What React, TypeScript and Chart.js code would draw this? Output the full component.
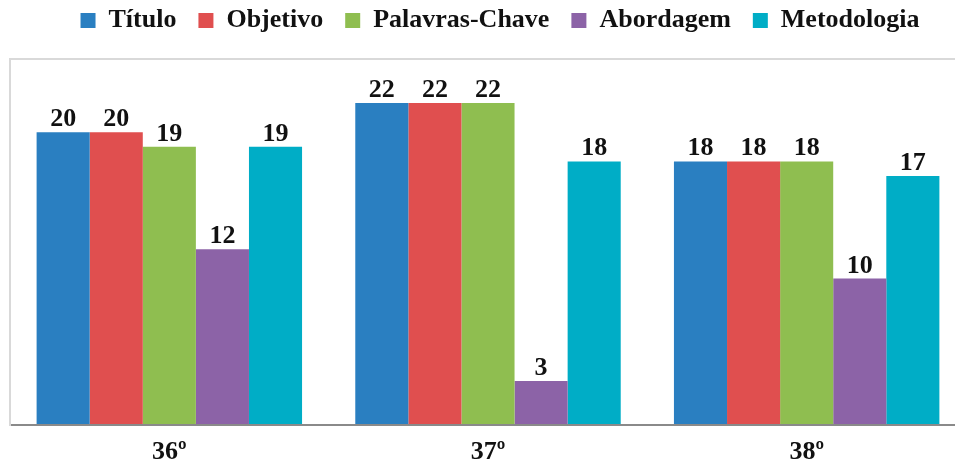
import React, { useEffect, useRef } from "react";
import { Chart, registerables } from "chart.js";

Chart.register(...registerables);

const categories = ["36º", "37º", "38º"];
const seriesNames = ["Título", "Objetivo", "Palavras-Chave", "Abordagem", "Metodologia"];
const titulo = [20, 22, 18];
const objetivo = [20, 22, 18];
const palavrasChave = [19, 22, 18];
const abordagem = [12, 3, 10];
const metodologia = [19, 18, 17];
const colors = ["#2a7fc1", "#e04f4f", "#8fbe50", "#8c63a7", "#00adc6"];
const yMax = 25;

const FONT = "'Liberation Serif', 'Times New Roman', serif";

const valueLabels = {
  id: "valueLabels",
  afterDatasetsDraw(chart: any) {
    const ctx = chart.ctx;
    ctx.save();
    ctx.font = `bold 26px ${FONT}`;
    ctx.fillStyle = "#111";
    ctx.textAlign = "center";
    ctx.textBaseline = "alphabetic";
    chart.data.datasets.forEach((ds: any, i: number) => {
      const meta = chart.getDatasetMeta(i);
      meta.data.forEach((el: any, j: number) => {
        ctx.fillText(String(ds.data[j]), el.x, el.y - 6);
      });
    });
    ctx.restore();
  },
};

export default function App() {
  const ref = useRef<HTMLCanvasElement>(null);
  useEffect(() => {
    if (!ref.current) return;
    const seriesData = [titulo, objetivo, palavrasChave, abordagem, metodologia];
    const chart = new Chart(ref.current, {
      type: "bar",
      data: {
        labels: categories,
        datasets: seriesNames.map((name, i) => ({
          label: name,
          data: seriesData[i],
          backgroundColor: colors[i],
          borderWidth: 0,
          barPercentage: 1,
          categoryPercentage: 0.833,
        })),
      },
      options: {
        responsive: false,
        animation: false,
        layout: { padding: { top: -14.5, left: 0, right: 0, bottom: -14.2 } },
        plugins: {
          legend: {
            position: "top",
            labels: {
              boxWidth: 15,
              boxHeight: 15,
              padding: 22,
              color: "#111",
              font: { family: FONT, size: 26, weight: "bold" },
            },
          },
          tooltip: { enabled: false },
        },
        scales: {
          x: {
            grid: { display: false, drawTicks: false },
            border: { display: true, color: "#8a8a8a", width: 2 },
            ticks: {
              color: "#111",
              padding: 12,
              font: { family: FONT, size: 26, weight: "bold" },
            },
          },
          xTop: {
            type: "category",
            position: "top",
            display: true,
            ticks: { display: false },
            grid: { display: false, drawTicks: false },
            border: { display: false },
            afterFit: (s: any) => {
              s.height = 15.5;
            },
          },
          y: {
            min: 0,
            max: yMax,
            position: "left",
            ticks: { display: false, stepSize: 5 },
            grid: {
              drawTicks: false,
              lineWidth: 2,
              color: (c: any) => (c.tick && c.tick.value === yMax ? "#d9d9d9" : "rgba(0,0,0,0)"),
            },
            border: { display: true, color: "#d9d9d9", width: 2 },
            afterFit: (s: any) => {
              s.width = 10;
            },
          },
          yRight: {
            type: "linear",
            position: "right",
            display: true,
            ticks: { display: false },
            grid: { display: false, drawTicks: false },
            border: { display: false },
            afterFit: (s: any) => {
              s.width = 34;
            },
          },
        },
      },
      plugins: [valueLabels],
    } as any);
    return () => chart.destroy();
  }, []);
  return (
    <div style={{ position: "fixed", left: 0, top: 0, width: 955, height: 466, overflow: "hidden", background: "#fff" }}>
      <canvas ref={ref} width={1000} height={466} style={{ display: "block" }} />
    </div>
  );
}
